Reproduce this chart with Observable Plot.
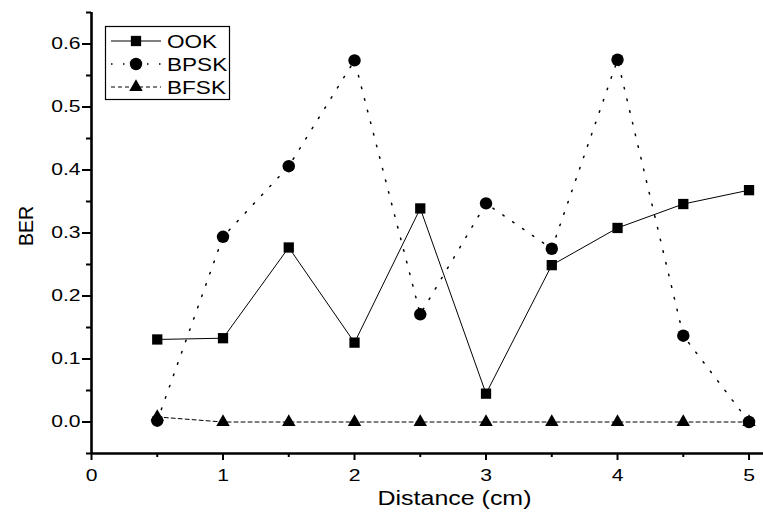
<!DOCTYPE html>
<html><head><meta charset="utf-8">
<script src="https://cdn.jsdelivr.net/npm/d3@7"></script>
<script src="https://cdn.jsdelivr.net/npm/@observablehq/plot@0.6"></script>
<style>
body{margin:0;background:#fff;}
#wrap{position:relative;width:763px;height:518px;}
#legend{position:absolute;left:0;top:0;pointer-events:none;}
</style></head><body><div id="wrap"></div>
<script>
// ---- data ----
const distance = [0.5, 1, 1.5, 2, 2.5, 3, 3.5, 4, 4.5, 5];
const ook  = [0.131, 0.133, 0.277, 0.126, 0.339, 0.045, 0.249, 0.308, 0.346, 0.368];
const bpsk = [0.002, 0.294, 0.406, 0.574, 0.171, 0.347, 0.275, 0.575, 0.137, 0.000];
const bfsk = [0.008, 0.000, 0.000, 0.000, 0.000, 0.000, 0.000, 0.000, 0.000, 0.000];
const seriesNames = ["OOK", "BPSK", "BFSK"];
const xTicks = [0, 1, 2, 3, 4, 5];
const xMinorTicks = [0.5, 1.5, 2.5, 3.5, 4.5];
const yTicks = [0.0, 0.1, 0.2, 0.3, 0.4, 0.5, 0.6];
const yMinorTicks = [-0.05, 0.05, 0.15, 0.25, 0.35, 0.45, 0.55, 0.65];
const xLabel = "Distance (cm)";
const yLabel = "BER";

const FONT = "'Liberation Sans', Arial, sans-serif";
const STRETCH = 1.28;

const styles = [
  {name: seriesNames[0], values: ook,  symbol: "square",   r: 5.8, dash: null,        width: 1},
  {name: seriesNames[1], values: bpsk, symbol: "circle",   r: 6.2, dash: "1.5 10.5",  width: 1.5},
  {name: seriesNames[2], values: bfsk, symbol: "triangle", r: 5.0, dash: "4 3",       width: 1}
];

const marks = [
  Plot.ruleX([0], {strokeWidth: 2.6, stroke: "black"}),
  Plot.ruleY([-0.05], {strokeWidth: 2.6, stroke: "black"}),
  Plot.axisY(yTicks, {tickSize: 9, tickPadding: 2, strokeWidth: 2, tickFormat: d3.format(".1f"), fontSize: 16.5, label: null}),
  Plot.axisY(yMinorTicks, {tickSize: 5, strokeWidth: 2, tickFormat: () => "", label: null}),
  Plot.axisX(xTicks, {tickSize: 7, tickPadding: 9, strokeWidth: 2, tickFormat: d3.format("d"), fontSize: 16.5, label: null}),
  Plot.axisX(xMinorTicks, {tickSize: 4, strokeWidth: 2, tickFormat: () => "", label: null}),
  Plot.text([xLabel], {frameAnchor: "bottom", dx: 27, dy: 45, fontSize: 19.5, lineAnchor: "middle", fill: "black"}),
  Plot.text([yLabel], {frameAnchor: "left", dx: -65, dy: 13, rotate: -90, fontSize: 19.5, lineAnchor: "middle", fill: "black"})
];
for (const s of styles) {
  marks.push(Plot.line(distance, {x: d => d, y: (d, i) => s.values[i], stroke: "black", strokeWidth: s.width, strokeDasharray: s.dash}));
}
for (const s of styles) {
  marks.push(Plot.dot(distance, {x: d => d, y: (d, i) => s.values[i], symbol: s.symbol, r: s.r, fill: "black", stroke: "none"}));
}

const chart = Plot.plot({
  width: 763,
  height: 518,
  marginLeft: 91,
  marginRight: 0,
  marginTop: 12,
  marginBottom: 65,
  x: {domain: [0, 5.11], label: null},
  y: {domain: [-0.05, 0.65], label: null},
  style: {fontFamily: FONT, color: "black", background: "white", overflow: "visible"},
  marks
});
const wrap = document.getElementById("wrap");
wrap.appendChild(chart);

// horizontal stretch of text to match reference proportions
chart.querySelectorAll("text").forEach(t => {
  if ((t.getAttribute("transform") || "").includes("rotate")) return;
  const len = t.getComputedTextLength();
  if (len > 0) {
    t.setAttribute("textLength", (len * STRETCH).toFixed(2));
    t.setAttribute("lengthAdjust", "spacingAndGlyphs");
  }
});

// ---- legend ----
const leg = d3.select(wrap).append("svg").attr("id", "legend").attr("width", 763).attr("height", 518);
leg.append("rect").attr("x", 105.5).attr("y", 26.5).attr("width", 124).attr("height", 73)
  .attr("fill", "white").attr("stroke", "black").attr("stroke-width", 1.2);
styles.forEach((s, i) => {
  const cy = 41 + i * 23;
  leg.append("line").attr("x1", 111).attr("x2", 161).attr("y1", cy).attr("y2", cy)
    .attr("stroke", "black").attr("stroke-width", s.width)
    .attr("stroke-dasharray", s.dash);
  const sym = {square: d3.symbolSquare, circle: d3.symbolCircle, triangle: d3.symbolTriangle}[s.symbol];
  leg.append("path").attr("d", d3.symbol(sym, Math.PI * s.r * s.r)())
    .attr("transform", `translate(136,${cy})`).attr("fill", "black");
  const t = leg.append("text").attr("x", 167).attr("y", cy).attr("dy", "0.36em")
    .attr("font-family", FONT).attr("font-size", 18.5).attr("fill", "black").text(s.name);
  const n = t.node(); const len = n.getComputedTextLength();
  t.attr("textLength", (len * 1.22).toFixed(2)).attr("lengthAdjust", "spacingAndGlyphs");
});
</script></body></html>
